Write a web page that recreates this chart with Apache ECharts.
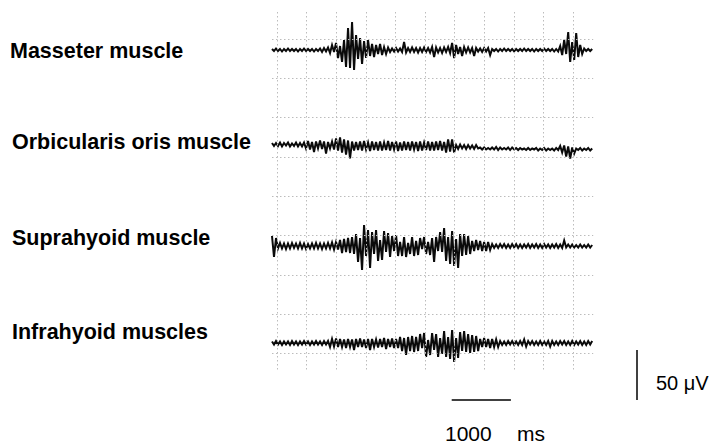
<!DOCTYPE html>
<html>
<head>
<meta charset="utf-8">
<script src="https://cdn.jsdelivr.net/npm/echarts@6/dist/echarts.min.js"></script>
<style>html,body{margin:0;padding:0;background:#fff;}#c{width:719px;height:446px;}</style>
</head>
<body>
<div id="c"></div>
<script>
// ---- data ----
var muscles = ['Masseter muscle', 'Orbicularis oris muscle', 'Suprahyoid muscle', 'Infrahyoid muscles'];
var startMs = -85;      // time of first sample (ms)
var stepMs = 33.8;      // sample spacing (ms)
var masseter = [1,-1,1.5,-1,1,-1.5,1,-1,1.5,-1,1,-1,1,-1.5,1,-1,1.5,-1,1,-1,1,-1.5,1,-1,1.5,-2,2,-1.5,2.5,
  -3,5,-2,7,-8,4,-12,10,-17,22,-18,28,-20,
  15,-9,12,-14,9,-8,10,-6,6,-7,5,-4,6,-5,3,-4,2.5,
  -2,1.5,-1.5,2,-1.5,1.5,-2,8,-2.5,
  2,-2,2.5,-2,2,-2.5,2,-2,2.5,-2,2,-2.5,3,-7,
  2.5,-2.5,2,-3,2.5,-2,3,
  -3,7,-8,5,-4,3,-6,3,-2.5,2.5,-2.5,2,-6,
  2,-1.5,1.5,-2,2,-1.5,2,-5,
  1,-1,1,-1.5,1,-1,1.5,-1,1,-1,1,-1.5,1,-1,1,-1,1.5,-1,1,-1,1,-1.5,1,-1,1,-1,1.5,-1,1,-1,1,-1.5,1,-1.5,
  4,-5,10,-4,18,-12,8,-10,17,-7,5,-4,
  1.5,-1,1,-1,1];
var orbicularis = [3.5,0.5,3.5,0.5,4,0,3.5,1,4,0,3,0.5,4,0,3.5,0,4,
  -2,5.5,-3,4.5,-5.5,5,-2,6,-2.5,5,-7,4.5,-2,5,-3,
  8,-4,9,-6,7,-8,6,-12,
  5,-4,4.5,-3.5,5,-4,5.5,-3,4,-4.5,5,-3.5,4.5,-4,5,-4,4,-3.5,5.5,-4,4.5,-3,5,-4.5,4,-4,5,-3.5,4.5,-4,
  5,-3,4.5,-4.5,5,-4,4,-3.5,5,-4,4.5,-4,5,-3.5,5.5,-4,4.5,
  -6,7,-5,7,-6,
  1.5,-2.5,2,-2,1.5,-2.5,1.5,-2,1,-2.5,1.5,-2,
  -1,-3,-1,-3,-1.5,-3,-1,-3,-0.5,-3.5,-1,-3,-1.5,-3,-1,-3.5,-1,-3,-1.5,-3.5,
  -1.5,-3,-2,-3.5,-1.5,-3.5,-2,-3,-1.5,-4,-2,-3.5,-1.5,-4,-2,-3.5,-2,-4,-1.5,-3.5,
  0.5,-6,1,-10,0,-12,-1,-7,
  -2,-3.5,-1.5,-4,-2,-3.5,-1.5,-4,-2];
var suprahyoid = [10,-11,8,
  -2.5,3,-2.5,2.5,-3,2.5,-2.5,3,-2,2.5,-2.5,3,-2.5,2.5,-3,2,-2.5,2.5,-2.5,3,-2.5,2.5,-3,2.5,-2.5,3,-2.5,3.5,-3.5,4,-3.5,
  6,-7,7,-6,8,-7,9,-8,
  12,-16,8,-24,21,-10,16,-22,
  14,-8,16,-15,6,-14,15,-6,13,-11,
  10,-5,11,-10,4,-10,9,-11,3,-8,9,-10,5,-9,
  8,-3,9,-8,4,-9,8,-16,9,-5,
  14,-6,18,-15,9,-18,15,-20,7,-22,12,
  -10,12,-9,10,-8,
  5,-5,6,-4,5,-5,4,-5,4,-4,
  2,-2,1.5,-2,2,-1.5,2,-2,1.5,-2,2,-1.5,2,-2,1.5,-2,1.5,-1.5,2,-2,1.5,-1.5,2,-2,1.5,-2,2,-1.5,1.5,-2,1.5,-1.5,2,-2,1.5,-2,
  5.5,
  -1.5,1.5,-1.5,1.5,-1.5,1,-1.5,1.5,-1.5,1,-1.5,1.5,-1.5,1];
var infrahyoid = [1.5,-1.5,2,-1.5,1.5,-2,1.5,-1.5,1.5,-2,2,-1.5,1.5,-2,1.5,-1.5,2,-1.5,1.5,-2,1.5,-1.5,2,-1.5,1.5,-2,2,-1.5,2,
  -4,4,-3.5,4.5,-4,
  4,-4,3.5,-5,4,-4,3.5,-7,4,-4,4.5,-4,3.5,-5,4,-7,4,-4,3.5,-4.5,4,-4,5,-6,4,-4,4.5,-5,4,-5,
  6,-8,5,-12,6,-8,7,-9,6,-8,
  9,-5,10,-14,3,-12,10,-7,9,-14,5,-11,12,
  -14,6,-16,13,-19,5,-15,11,-8,12,
  -9,9,-10,8,-9,7,-8,
  4,-4,5,-4,4,-5,4,-4,3.5,-4,
  2,-2,1.5,-2,2,-1.5,2,-2,1.5,-2,2,-2,3.5,-3.5,2,-1.5,2,-2,1.5,-2,2,-2,1.5,-2,2,-3.5,2,-2,1.5,-2,
  2,-1.5,2,-2,1.5,-2,2,-2,1.5,-1.5,2,-2,1.5,-2,2,-1.5,2];
var gridTimesMs = [0,500,1000,1500,2000,2500,3000,3500,4000,4500,5000];
var gridLevelsUv = [52,91,130,170,209,248,288,327,366];
var scaleBarMs = 1000;
var scaleBarUv = 50;
var scaleTexts = ['1000', 'ms', '50 \u03bcV'];

// ---- layout (positions only) ----
var traceBase = [355, 258.5, 159, 62];
var traceEndMs = 5340;
var gridTop = 393, gridBottom = 35;
var labelY = [51, 142, 238, 332];
var labelX = [10, 12, 12, 12];

var traces = [masseter, orbicularis, suprahyoid, infrahyoid];
var chart = echarts.init(document.getElementById('c'), null, {renderer: 'svg'});

var gridLines = [];
gridTimesMs.forEach(function (t) {
  gridLines.push([{coord: [t, gridTop]}, {coord: [t, gridBottom]}]);
});
gridLevelsUv.forEach(function (v) {
  gridLines.push([{coord: [startMs, v]}, {coord: [traceEndMs, v]}]);
});

var series = [{
  type: 'line', data: [], silent: true,
  markLine: {
    silent: true, symbol: ['none', 'none'], label: {show: false},
    lineStyle: {color: '#bcbcbc', width: 1, type: [1.5, 2.5]},
    emphasis: {disabled: true},
    data: gridLines
  }
}];
traces.forEach(function (vals, k) {
  series.push({
    name: muscles[k], type: 'line', showSymbol: false, symbol: 'none',
    silent: true, animation: false,
    lineStyle: {color: '#0a0a0a', width: 2, join: 'miter'},
    data: vals.map(function (v, i) { return [startMs + i * stepMs, traceBase[k] + v]; })
  });
});
var barX0 = 2950, barY = 5, vBarX = 6080;
series.push({
  type: 'line', data: [], silent: true,
  markLine: {
    silent: true, symbol: ['none', 'none'], label: {show: false},
    lineStyle: {color: '#000', width: 1.5, type: 'solid'},
    emphasis: {disabled: true},
    data: [
      [{coord: [barX0, barY]}, {coord: [barX0 + scaleBarMs, barY]}],
      [{coord: [vBarX, barY]}, {coord: [vBarX, barY + scaleBarUv]}]
    ]
  }
});

var graphics = muscles.map(function (m, k) {
  return {type: 'text', x: labelX[k], y: labelY[k],
    style: {text: m, font: 'bold 21.5px "Liberation Sans", Arial, sans-serif', fill: '#000', verticalAlign: 'middle'}};
});
graphics.push({type: 'text', x: 445, y: 444,
  style: {text: scaleTexts[0], font: '21px "Liberation Sans", Arial, sans-serif', fill: '#000', verticalAlign: 'bottom'}});
graphics.push({type: 'text', x: 517, y: 444,
  style: {text: scaleTexts[1], font: '21px "Liberation Sans", Arial, sans-serif', fill: '#000', verticalAlign: 'bottom'}});
graphics.push({type: 'text', x: 656, y: 383,
  style: {text: scaleTexts[2], font: '20px "Liberation Sans", Arial, sans-serif', fill: '#000', verticalAlign: 'middle'}});

chart.setOption({
  animation: false,
  backgroundColor: '#fff',
  grid: {left: 272, top: 12, width: 380, height: 393},
  xAxis: {type: 'value', min: -85, max: 6333, show: false, splitLine: {show: false}},
  yAxis: {type: 'value', min: 0, max: 393, show: false, splitLine: {show: false}},
  series: series,
  graphic: graphics
});
</script>
</body>
</html>
